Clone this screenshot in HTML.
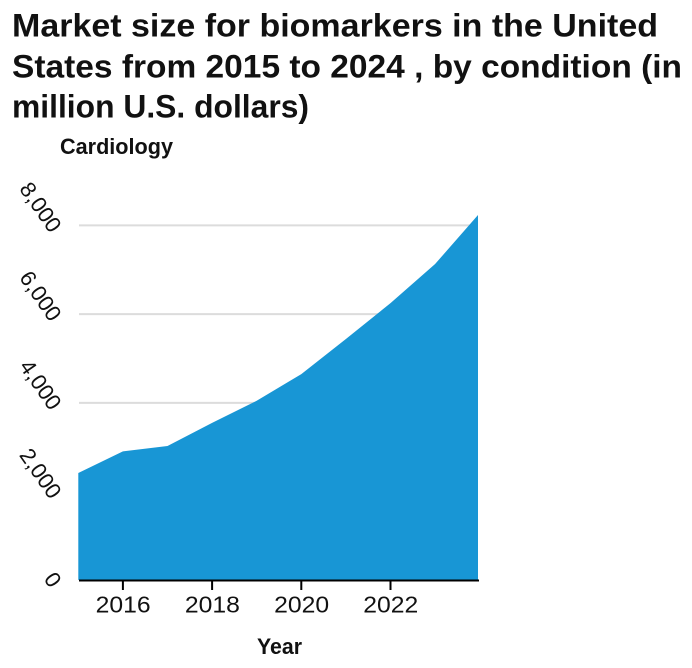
<!DOCTYPE html>
<html>
<head>
<meta charset="utf-8">
<style>
html,body{margin:0;padding:0;background:#fff;width:692px;height:668px;overflow:hidden}
svg{display:block}
text{font-family:"Liberation Sans",sans-serif;fill:#111}
</style>
</head>
<body>
<svg id="chart" width="692" height="668" viewBox="0 0 692 668" xmlns="http://www.w3.org/2000/svg">
<defs><clipPath id="plot-clip"><rect x="78" y="150" width="400" height="430"></rect></clipPath></defs>
<g>
<text x="12" y="36.5" font-size="32" font-weight="bold" textLength="646" lengthAdjust="spacingAndGlyphs">Market size for biomarkers in the United</text>
<text x="12" y="77.5" font-size="32" font-weight="bold" textLength="670" lengthAdjust="spacingAndGlyphs">States from 2015 to 2024 , by condition (in</text>
<text x="12" y="117.5" font-size="32" font-weight="bold" textLength="297" lengthAdjust="spacingAndGlyphs">million U.S. dollars)</text>
</g>
<text x="60" y="154" font-size="22" font-weight="bold" textLength="113" lengthAdjust="spacingAndGlyphs">Cardiology</text>
<text x="257" y="654" font-size="22" font-weight="bold" textLength="45" lengthAdjust="spacingAndGlyphs">Year</text>
<g id="grid"></g>
<path id="area" fill="#1896d5" clip-path="url(#plot-clip)"></path>
<g id="xaxis"></g>
<g id="yaxis"></g>
</svg>
<script>
const years = [2015, 2016, 2017, 2018, 2019, 2020, 2021, 2022, 2023, 2024];
const cardiology = [2410, 2900, 3020, 3540, 4040, 4640, 5430, 6240, 7120, 8270];
const xTickValues = [2016, 2018, 2020, 2022];
const yTickValues = [0, 2000, 4000, 6000, 8000];

const NS = 'http://www.w3.org/2000/svg';
const x = v => 78.3 + (v - 2015) * 44.6;
const y = v => 580 - v * 355 / 8000;

function make(tag, attrs, parent) {
  const el = document.createElementNS(NS, tag);
  for (const k in attrs) el.setAttribute(k, attrs[k]);
  parent.appendChild(el);
  return el;
}

const grid = document.getElementById('grid');
const xaxis = document.getElementById('xaxis');
const yaxis = document.getElementById('yaxis');

yTickValues.forEach(v => {
  if (v > 0) {
    const line = make('line', {x1: 79, x2: 478, y1: y(v) + 0.4, y2: y(v) + 0.4, stroke: '#dcdcdc', 'stroke-width': 2}, grid);
    
    
  }
  const label = make('text', {
    'font-size': 22,
    'text-anchor': 'end',
    transform: 'translate(50 ' + (y(v) + 14) + ') rotate(55) translate(-4 -3)'
  }, yaxis);
  
  
  label.textContent = v.toLocaleString('en-US');
});

const pts = years.map((yr, i) => x(yr) + ' ' + y(cardiology[i]));
document.getElementById('area').setAttribute('d',
  'M' + x(years[0]) + ' ' + y(0) + ' L' + pts.join(' L') + ' L' + x(years[years.length - 1]) + ' ' + y(0) + ' Z');

const axisLine = make('line', {x1: 79, x2: 479, y1: 580.5, y2: 580.5, stroke: '#000', 'stroke-width': 2}, xaxis);



xTickValues.forEach(v => {
  const tick = make('line', {x1: x(v), x2: x(v), y1: 580, y2: 590, stroke: '#000', 'stroke-width': 2}, xaxis);
  
  
  const label = make('text', {x: x(v) + 0.3, y: 612.7, 'font-size': 23, 'text-anchor': 'middle', textLength: 55, lengthAdjust: 'spacingAndGlyphs'}, xaxis);
  
  
  label.textContent = String(v);
});
</script>
</body>
</html>
